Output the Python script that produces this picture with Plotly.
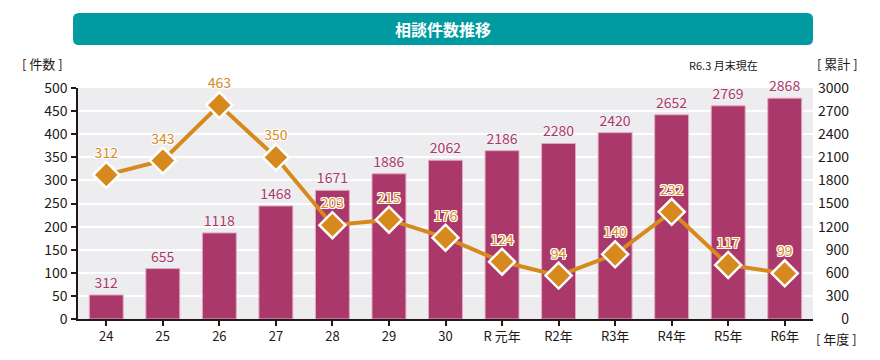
import plotly.graph_objects as go

categories = ["24", "25", "26", "27", "28", "29", "30", "R 元年", "R2年", "R3年", "R4年", "R5年", "R6年"]
yearly_counts = [312, 343, 463, 350, 203, 215, 176, 124, 94, 140, 232, 117, 99]
cumulative = [312, 655, 1118, 1468, 1671, 1886, 2062, 2186, 2280, 2420, 2652, 2769, 2868]
left_ticks = list(range(0, 501, 50))
right_ticks = list(range(0, 3001, 300))

FONT = "Noto Sans CJK JP"
ORANGE = "#D6891C"
MAGENTA = "#AB386A"
TEAL = "#009BA0"
DARK = "#231815"
halo = "1px 1px 0 #fff, -1px -1px 0 #fff, 1px -1px 0 #fff, -1px 1px 0 #fff, 0 1px 0 #fff, 0 -1px 0 #fff, 1px 0 0 #fff, -1px 0 0 #fff"
soft = "0 0 2px #fff"

fig = go.Figure()
fig.add_trace(go.Bar(
    x=categories, y=cumulative, yaxis="y",
    marker=dict(color=MAGENTA, line=dict(color="#E2A9C2", width=1)),
    width=0.6,
    text=[str(v) for v in cumulative], textposition="outside",
    textfont=dict(color=MAGENTA, size=14, family=FONT, shadow=soft),
    cliponaxis=False, hoverinfo="skip",
))
fig.add_trace(go.Scatter(
    x=categories, y=yearly_counts, yaxis="y2", mode="lines+markers+text",
    line=dict(color=ORANGE, width=4),
    marker=dict(symbol="diamond", size=20, color=ORANGE, line=dict(color="white", width=2.5)),
    text=[str(v) for v in yearly_counts], textposition="top center",
    textfont=dict(color=ORANGE, size=14, family=FONT, shadow=halo),
    cliponaxis=False, hoverinfo="skip",
))

right_text = [("\u2007" * (4 - len(str(v)))) + str(v) for v in right_ticks]

W, H = 880, 360
l, r, t, b = 78, 67, 88, 41

fig.update_layout(
    width=W, height=H,
    margin=dict(l=l, r=r, t=t, b=b, autoexpand=False),
    paper_bgcolor="white", plot_bgcolor="#EDEDF0",
    showlegend=False,
    font=dict(family=FONT, color=DARK, size=14),
    bargap=0.4,
    xaxis=dict(
        type="category", range=[-0.5, 12.5], automargin=False,
        showline=True, linecolor=DARK, linewidth=1.5,
        ticks="outside", ticklen=5, tickcolor=DARK, tickwidth=1.5,
        tickfont=dict(size=13, family=FONT, color=DARK),
        showgrid=False,
    ),
    yaxis=dict(
        range=[0, 3000], side="right", tickvals=right_ticks, ticktext=right_text,
        showline=False, ticks="", showgrid=True, gridcolor="white", gridwidth=2,
        tickfont=dict(size=14, family=FONT, color=DARK), automargin=False,
        zeroline=False, ticklabelstandoff=4,
    ),
    yaxis2=dict(
        range=[0, 500], side="left", overlaying="y", tickvals=left_ticks,
        showline=True, linecolor=DARK, linewidth=1.5,
        ticks="outside", ticklen=5, tickcolor=DARK, tickwidth=1.5,
        showgrid=False, zeroline=False, automargin=False,
        tickfont=dict(size=14, family=FONT, color=DARK),
        ticklabelstandoff=1,
    ),
)

pw, ph = W - l - r, H - t - b
def px(x):
    return (x - l) / pw
def py(y):
    return (H - b - y) / ph

x0, x1, y0, y1, rad = 73, 813, 13, 45, 6
path = (
    f"M {px(x0+rad)} {py(y0)} L {px(x1-rad)} {py(y0)} "
    f"Q {px(x1)} {py(y0)} {px(x1)} {py(y0+rad)} L {px(x1)} {py(y1-rad)} "
    f"Q {px(x1)} {py(y1)} {px(x1-rad)} {py(y1)} L {px(x0+rad)} {py(y1)} "
    f"Q {px(x0)} {py(y1)} {px(x0)} {py(y1-rad)} L {px(x0)} {py(y0+rad)} "
    f"Q {px(x0)} {py(y0)} {px(x0+rad)} {py(y0)} Z"
)
fig.add_shape(type="path", xref="paper", yref="paper", path=path,
              fillcolor=TEAL, line=dict(width=0), layer="below")

def note(x, y, text, anchor, size, color=DARK):
    fig.add_annotation(x=px(x), y=py(y), xref="paper", yref="paper", text=text,
                       showarrow=False, xanchor=anchor, yanchor="middle",
                       font=dict(size=size, family=FONT, color=color))

note(443, 29, "<b>相談件数推移</b>", "center", 16, "white")
note(20, 64, "[ 件数 ]", "left", 13)
note(815, 64, "[ 累計 ]", "left", 13)
note(760, 65, "R6.3 月末現在", "right", 11)
note(814, 338, "[ 年度 ]", "left", 13)

fig.write_html("out.html", config={"displayModeBar": False},
               post_script="document.body.style.margin='0';")
